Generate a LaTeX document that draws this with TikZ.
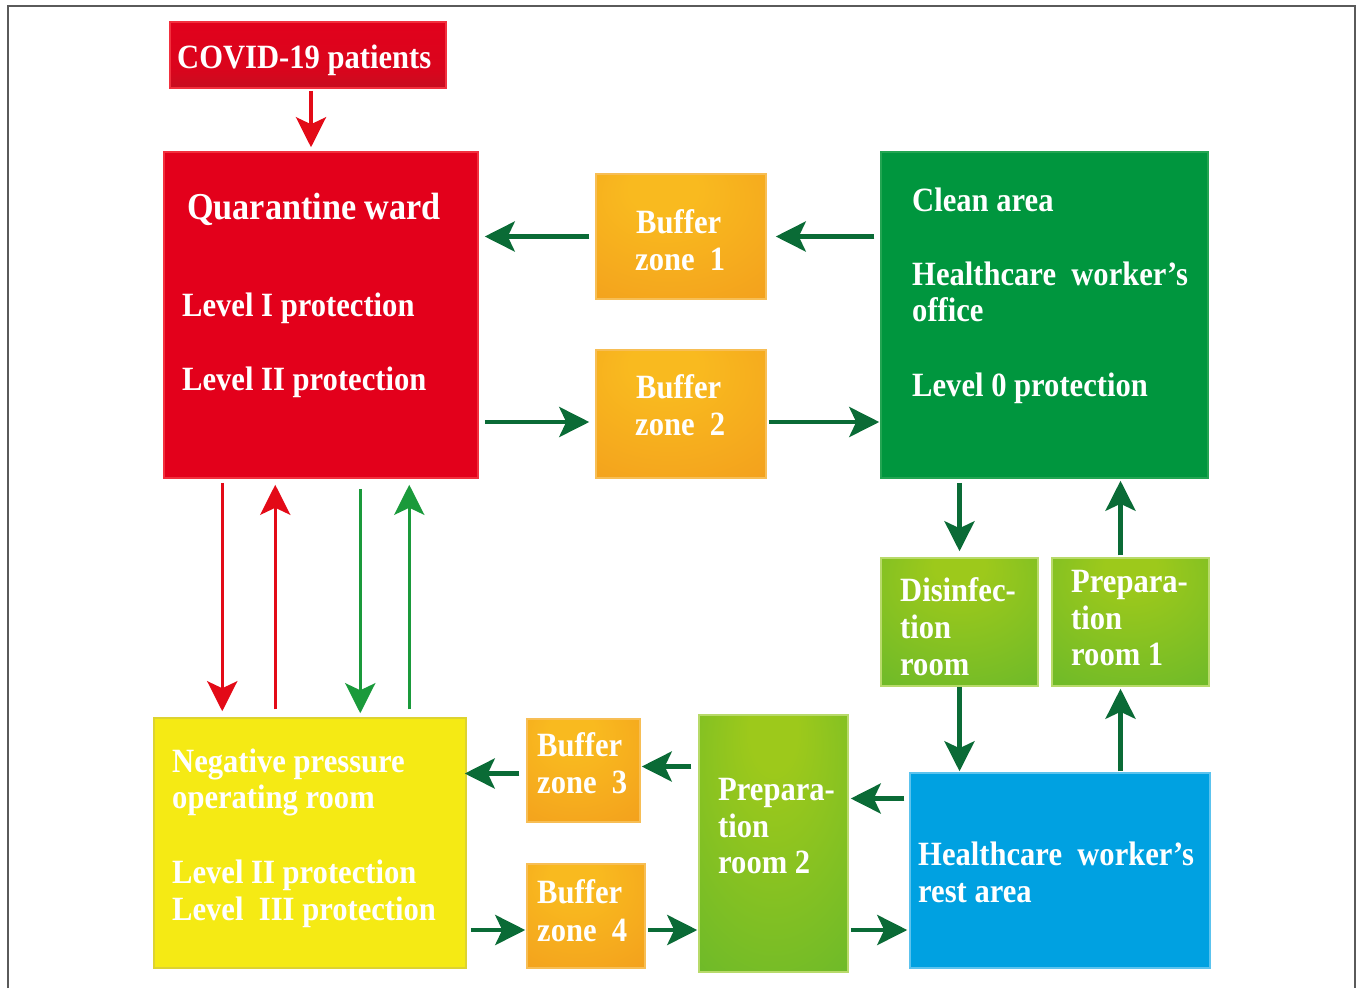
\documentclass[tikz,border=0pt]{standalone}
\usepackage{fontspec}
\setmainfont{Liberation Serif}[FakeStretch=0.9]
\usetikzlibrary{arrows.meta,calc}
\definecolor{redA}{HTML}{E3001B}
\definecolor{redDark}{HTML}{A81C25}
\definecolor{redLine}{HTML}{F2303E}
\definecolor{orIn}{HTML}{F9BA1F}
\definecolor{orOut}{HTML}{EE8A1B}
\definecolor{orLine}{HTML}{F7BE55}
\definecolor{cleanG}{HTML}{00963E}
\definecolor{cleanLine}{HTML}{23A552}
\definecolor{lgIn}{HTML}{9DC91B}
\definecolor{lgOut}{HTML}{4AAE34}
\definecolor{lgLine}{HTML}{B8DA6A}
\definecolor{yel}{HTML}{F5EA14}
\definecolor{yelLine}{HTML}{DDD330}
\definecolor{blu}{HTML}{00A1E1}
\definecolor{bluLine}{HTML}{5CC3EE}
\definecolor{arrG}{HTML}{0A6B36}
\definecolor{vertG}{HTML}{1A9A3B}
\definecolor{arrR}{HTML}{E30A17}
\definecolor{frameGray}{HTML}{5A5A5A}
\pgfdeclareradialshading{redglow}{\pgfpoint{0bp}{8bp}}{color(0bp)=(redA); color(38bp)=(redA); color(72bp)=(redDark)}
\pgfdeclareradialshading{orglow}{\pgfpoint{-6bp}{22bp}}{color(0bp)=(orIn); color(10bp)=(orIn); color(75bp)=(orOut)}
\pgfdeclareradialshading{lgglow}{\pgfpoint{0bp}{25bp}}{color(0bp)=(lgIn); color(8bp)=(lgIn); color(70bp)=(lgOut)}
\pgfdeclareverticalshading{covshade}{100bp}{color(0bp)=(redDark); color(40bp)=(redA!85!redDark); color(85bp)=(redA); color(100bp)=(redA)}
\begin{document}
\begin{tikzpicture}[x=1pt,y=-1pt,
  box/.style={inner sep=0pt, line width=1.5pt},
  redbox/.style={box, draw=redLine, shading=redglow},
  orbox/.style={box, draw=orLine, shading=orglow},
  cleanbox/.style={box, draw=cleanLine, fill=cleanG},
  lgbox/.style={box, draw=lgLine, shading=lgglow},
  yelbox/.style={box, draw=yelLine, fill=yel},
  blubox/.style={box, draw=bluLine, fill=blu},
  txt/.style={anchor=base west, inner sep=0pt, text=white, font=\fontsize{34}{37}\selectfont\bfseries},
  ttl/.style={txt, font=\fontsize{38}{40}\selectfont\bfseries},
  tipk/.tip={Stealth[length=30pt, width=30pt, inset=7pt]},
  harr/.style={draw=arrG, line width=4.5pt, -tipk},
  rarr/.style={draw=arrR, line width=3.5pt, -tipk},
  garr/.style={draw=vertG, line width=3.5pt, -tipk}
]
\useasboundingbox (0,0) rectangle (1360,988);
\fill[white] (0,0) rectangle (1360,988);
\draw[frameGray, line width=1.5pt] (8,988) -- (8,6) -- (1355,6) -- (1355,988);

% boxes
\node[box, draw=redLine, shading=covshade, minimum width=276, minimum height=66] (covid) at (308,55) {};
\node[redbox, minimum width=314, minimum height=326] (quar) at (321,315) {};
\node[orbox, minimum width=170, minimum height=125] (b1) at (681,236.5) {};
\node[orbox, minimum width=170, minimum height=128] (b2) at (681,414) {};
\node[cleanbox, minimum width=327, minimum height=326] (clean) at (1044.5,315) {};
\node[lgbox, minimum width=157, minimum height=128] (dis) at (959.5,622) {};
\node[lgbox, minimum width=157, minimum height=128] (p1) at (1130.5,622) {};
\node[yelbox, minimum width=312, minimum height=250] (neg) at (310,843) {};
\node[orbox, minimum width=113, minimum height=103] (b3) at (583.5,770.5) {};
\node[orbox, minimum width=118, minimum height=104] (b4) at (586,916) {};
\node[lgbox, minimum width=149, minimum height=257] (p2) at (773.5,843.5) {};
\node[blubox, minimum width=300, minimum height=195] (rest) at (1060,870.5) {};

% texts
\node[txt] (tcovid) at (177,68) {COVID-19 patients};
\node[ttl] (tq1) at (187,219) {Quarantine ward};
\node[txt] (tq2) at (182,316) {Level I protection};
\node[txt] (tq3) at (182,390) {Level II protection};
\node[txt] (tb1a) at (636,233) {Buffer};
\node[txt] (tb1b) at (635,270) {zone\ \ 1};
\node[txt] (tb2a) at (636,398) {Buffer};
\node[txt] (tb2b) at (635,435) {zone\ \ 2};
\node[txt] (tc1) at (912,211) {Clean area};
\node[txt] (tc2) at (912,285) {Healthcare\ \ worker’s};
\node[txt] (tc3) at (912,321) {office};
\node[txt] (tc4) at (912,396) {Level 0 protection};
\node[txt] (td1) at (900,601) {Disinfec-};
\node[txt] (td2) at (900,638) {tion};
\node[txt] (td3) at (900,675) {room};
\node[txt] (tp1a) at (1071,592) {Prepara-};
\node[txt] (tp1b) at (1071,629) {tion};
\node[txt] (tp1c) at (1071,665) {room 1};
\node[txt] (tn1) at (172,772) {Negative pressure};
\node[txt] (tn2) at (172,808) {operating room};
\node[txt] (tn3) at (172,883) {Level II protection};
\node[txt] (tn4) at (172,920) {Level\ \ III protection};
\node[txt] (tb3a) at (537,756) {Buffer};
\node[txt] (tb3b) at (537,793) {zone\ \ 3};
\node[txt] (tb4a) at (537,903) {Buffer};
\node[txt] (tb4b) at (537,941) {zone\ \ 4};
\node[txt] (tp2a) at (718,800) {Prepara-};
\node[txt] (tp2b) at (718,837) {tion};
\node[txt] (tp2c) at (718,873) {room 2};
\node[txt] (tr1) at (918,865) {Healthcare\ \ worker’s};
\node[txt] (tr2) at (918,902) {rest area};

% arrows
\draw[rarr, shorten <=2pt, shorten >=4pt] ($(covid.south)+(3,0)$) -- ($(quar.north)+(-10,0)$);
\draw[harr, shorten <=6pt, shorten >=9pt] (clean.west |- b1.east) -- (b1.east);
\draw[harr, shorten <=6pt, shorten >=6pt] (b1.west) -- (quar.east |- b1.west);
\draw[harr, shorten <=6pt, shorten >=6pt] ($(quar.east |- b2.west)+(0,8)$) -- ($(b2.west)+(0,8)$);
\draw[harr, shorten <=2pt, shorten >=1pt] ($(b2.east)+(0,8)$) -- ($(clean.west |- b2.east)+(0,8)$);

\draw[rarr, shorten <=4pt, shorten >=6pt] ($(quar.south west)+(59,0)$) -- ($(neg.north west)+(69,0)$);
\draw[rarr, shorten <=8pt, shorten >=6pt] ($(neg.north west)+(122,0)$) -- ($(quar.south west)+(112,0)$);
\draw[garr, shorten <=10pt, shorten >=4pt] ($(quar.south west)+(197,0)$) -- ($(neg.north west)+(207,0)$);
\draw[garr, shorten <=8pt, shorten >=6pt] ($(neg.north west)+(256,0)$) -- ($(quar.south west)+(246,0)$);

\draw[harr, shorten <=4pt, shorten >=6pt] (dis.north |- clean.south) -- (dis.north);
\draw[harr, shorten <=2pt, shorten >=2pt] ($(p1.north)+(-10,0)$) -- ($(clean.south -| p1.north)+(-10,0)$);
\draw[harr, shorten <=0pt, shorten >=1pt] (dis.south) -- (rest.north -| dis.south);
\draw[harr, shorten <=1pt, shorten >=2pt] ($(rest.north -| p1.south)+(-10,0)$) -- ($(p1.south)+(-10,0)$);

\draw[harr, shorten <=5pt, shorten >=2pt] ($(rest.west |- p2.east)+(0,-45)$) -- ($(p2.east)+(0,-45)$);
\draw[harr, shorten <=7pt, shorten >=1pt] ($(p2.west |- b3.east)+(0,-4)$) -- ($(b3.east)+(0,-4)$);
\draw[harr, shorten <=7pt, shorten >=-2pt] ($(b3.west)+(0,3)$) -- ($(neg.east |- b3.west)+(0,3)$);
\draw[harr, shorten <=4pt, shorten >=1pt] ($(neg.east |- b4.west)+(0,14)$) -- ($(b4.west)+(0,14)$);
\draw[harr, shorten <=2pt, shorten >=1pt] ($(b4.east)+(0,14)$) -- ($(p2.west |- b4.east)+(0,14)$);
\draw[harr, shorten <=2pt, shorten >=2pt] ($(p2.east |- b4.east)+(0,14)$) -- ($(rest.west |- b4.east)+(0,14)$);
\end{tikzpicture}
\end{document}
